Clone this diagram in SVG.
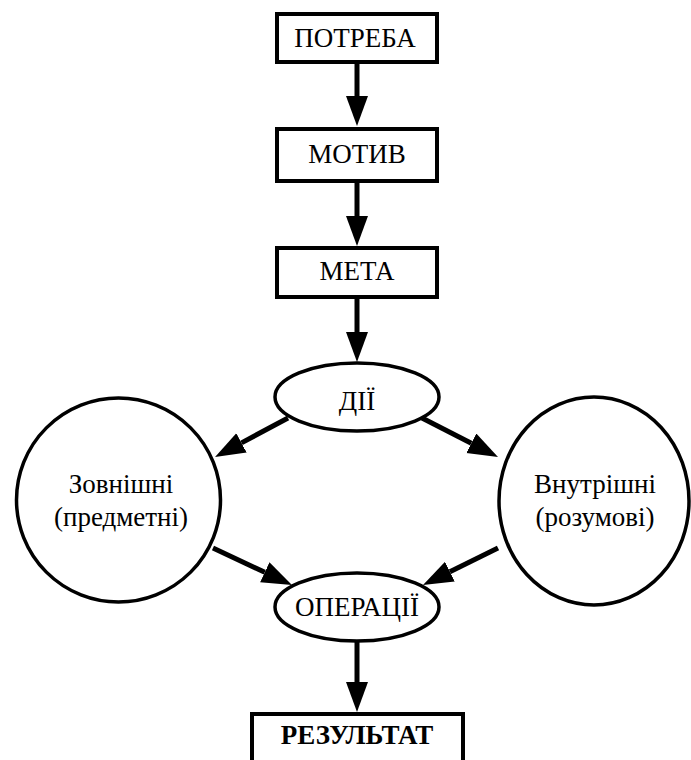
<svg xmlns="http://www.w3.org/2000/svg" width="691" height="760" viewBox="0 0 691 760">
<style>
.box{fill:#fff;stroke:#000;stroke-width:4}
.ell{fill:#fff;stroke:#000;stroke-width:3.5}
.t{font-family:'Liberation Serif','Times New Roman',serif;font-size:27px;fill:#000;text-anchor:middle}
.b{font-weight:bold}
.c{stroke:#000;stroke-width:5;fill:none;marker-end:url(#ah)}
</style>
<defs>
<marker id="ah" markerUnits="userSpaceOnUse" markerWidth="32" markerHeight="24" refX="0" refY="11" orient="auto" viewBox="0 0 32 24">
<path d="M0,0 L30,11 L0,22 Z" fill="#000"/>
</marker>
</defs>
<rect width="691" height="760" fill="#fff"/>
<g id="connectors">
<line class="c" x1="357" y1="64" x2="357" y2="96"/>
<line class="c" x1="357" y1="182" x2="357" y2="216"/>
<line class="c" x1="357" y1="298" x2="357" y2="332"/>
<line class="c" x1="288" y1="418" x2="241.5" y2="442.9"/>
<line class="c" x1="422" y1="418" x2="471.3" y2="443.3"/>
<line class="c" x1="213" y1="548" x2="264.8" y2="572.3"/>
<line class="c" x1="498" y1="548" x2="449.9" y2="571.7"/>
<line class="c" x1="357" y1="642" x2="357" y2="682"/>
</g>
<g id="potreba">
<rect class="box" x="277" y="14" width="160" height="48"/>
<text class="t" x="355" y="47">ПОТРЕБА</text>
</g>
<g id="motyv">
<rect class="box" x="277" y="129" width="160" height="52"/>
<text class="t" x="357" y="163">МОТИВ</text>
</g>
<g id="meta">
<rect class="box" x="277" y="248" width="160" height="49"/>
<text class="t" x="357" y="280">МЕТА</text>
</g>
<g id="dii">
<ellipse class="ell" cx="357" cy="397" rx="82" ry="34"/>
<text class="t" x="357" y="410">ДІЇ</text>
</g>
<g id="zovnishni">
<ellipse class="ell" cx="118.5" cy="500" rx="102" ry="102"/>
<text class="t" x="121" y="493">Зовнішні</text>
<text class="t" x="121" y="526">(предметні)</text>
</g>
<g id="vnutrishni">
<ellipse class="ell" cx="594" cy="501" rx="95" ry="104"/>
<text class="t" x="595" y="493">Внутрішні</text>
<text class="t" x="595" y="526">(розумові)</text>
</g>
<g id="operatsii">
<ellipse class="ell" cx="357" cy="607" rx="82" ry="34"/>
<text class="t" x="357" y="616">ОПЕРАЦІЇ</text>
</g>
<g id="rezultat">
<rect class="box" x="252" y="714" width="211" height="60"/>
<text class="t b" x="357" y="744">РЕЗУЛЬТАТ</text>
</g>
</svg>
